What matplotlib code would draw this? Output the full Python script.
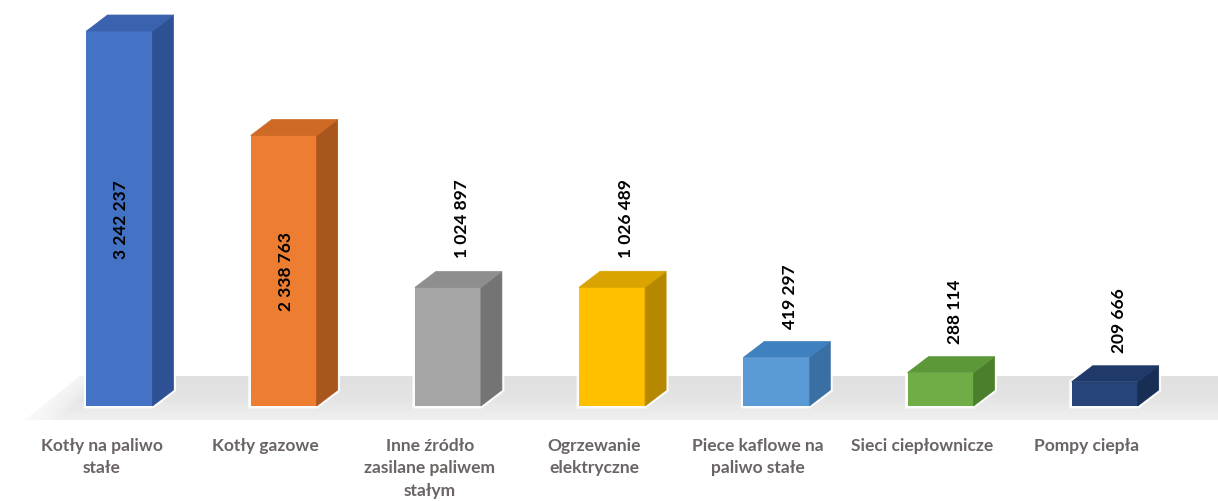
import numpy as np
import matplotlib
matplotlib.use("Agg")
import matplotlib.pyplot as plt
from matplotlib.patches import Polygon

# ---- data ----
categories = [
    "Kotły na paliwo\nstałe",
    "Kotły gazowe",
    "Inne źródło\nzasilane paliwem\nstałym",
    "Ogrzewanie\nelektryczne",
    "Piece kaflowe na\npaliwo stałe",
    "Sieci ciepłownicze",
    "Pompy ciepła",
]
values = [3242237, 2338763, 1024897, 1026489, 419297, 288114, 209666]
value_labels = ["3 242 237", "2 338 763", "1 024 897", "1 026 489",
                "419 297", "288 114", "209 666"]

# face colours: front, side, top
front_colors = ["#4472C4", "#ED7D31", "#A5A5A5", "#FFC000", "#5B9BD5", "#70AD47", "#264478"]
side_colors = ["#2E5095", "#A9551E", "#747474", "#B58800", "#3A6FA3", "#4C7F2C", "#182E55"]
top_colors = ["#3A62AE", "#CF6A26", "#8E8E8E", "#D9A300", "#3F80BF", "#5C9738", "#1F3968"]

# ---- layout (pixels) ----
W, H = 1218, 502
X0_PX, STEP_PX = 119.5, 164.2      # centre of first bar, spacing
BASE_PX = 95                       # baseline height above figure bottom
TOP_PX = 375                       # pixel height of the tallest bar
BAR_W_PX = 66
DEPTH_X_PX, DEPTH_Y_PX = 21, 16

fig = plt.figure(figsize=(W / 100, H / 100), dpi=100)
fig.patch.set_facecolor("white")
ax = fig.add_axes([0, 0, 1, 1])
ax.set_axis_off()

upp = max(values) / TOP_PX         # data units per pixel (vertical)
ax.set_xlim(-X0_PX / STEP_PX, (W - X0_PX) / STEP_PX)
ax.set_ylim(-BASE_PX * upp, (H - BASE_PX) * upp)

px_x = 1.0 / STEP_PX
dx = DEPTH_X_PX * px_x
dy = DEPTH_Y_PX * upp
bw = BAR_W_PX * px_x
x = np.arange(len(values))

# ---- floor ----
floor_front = -14 * upp
floor_back = 30 * upp
fl_left_front = (25 - X0_PX) * px_x
fl_left_back = (80 - X0_PX) * px_x
fl_right = (W + 20 - X0_PX) * px_x
floor_poly = Polygon([(fl_left_front, floor_front), (fl_right, floor_front),
                      (fl_right, floor_back), (fl_left_back, floor_back)],
                     closed=True, facecolor="none", edgecolor="none")
ax.add_patch(floor_poly)
grad = np.linspace(0, 1, 64).reshape(-1, 1)
cmap = matplotlib.colors.LinearSegmentedColormap.from_list(
    "floor", ["#F0F0F0", "#E4E4E4", "#E0E0E0"])
img = ax.imshow(grad, extent=(fl_left_front, fl_right, floor_front, floor_back),
                origin="lower", cmap=cmap, aspect="auto", zorder=1,
                interpolation="bilinear")
img.set_clip_path(floor_poly)
# soft left end of the floor
for k in range(6):
    ax.add_patch(Polygon([(fl_left_front - (k + 1) * 4 * px_x, floor_front),
                          (fl_left_front + (6 - k) * 5 * px_x, floor_front),
                          (fl_left_back + (6 - k) * 5 * px_x, floor_back),
                          (fl_left_back - (k + 1) * 4 * px_x, floor_back)],
                         closed=True, facecolor="white", edgecolor="none",
                         alpha=0.18, zorder=1.5))

# ---- 3D bars ----
for i, (xi, v) in enumerate(zip(x, values)):
    xl, xr = xi - bw / 2, xi + bw / 2
    outline = [(xl, 0), (xr, 0), (xr + dx, dy), (xr + dx, v + dy),
               (xl + dx, v + dy), (xl, v)]
    ax.add_patch(Polygon(outline, closed=True, facecolor="white",
                         edgecolor="white", linewidth=3.5, alpha=0.9, zorder=2))
    ax.bar(xi, v, width=bw, bottom=0, color=front_colors[i],
           linewidth=0, zorder=3)
    side = [(xr, 0), (xr + dx, dy), (xr + dx, v + dy), (xr, v)]
    ax.add_patch(Polygon(side, closed=True, facecolor=side_colors[i],
                         edgecolor=side_colors[i], linewidth=0.5, zorder=3))
    top = [(xl, v), (xl + dx, v + dy), (xr + dx, v + dy), (xr, v)]
    ax.add_patch(Polygon(top, closed=True, facecolor=top_colors[i],
                         edgecolor=top_colors[i], linewidth=0.5, zorder=3))

# ---- value labels ----
label_font = dict(family=["Lato", "DejaVu Sans"], fontweight="bold",
                  fontsize=12.5, color="black")
inside_threshold = 2_000_000
for i, (xi, v) in enumerate(zip(x, values)):
    if v >= inside_threshold:
        ax.text(xi + 2 * px_x, v / 2, value_labels[i], rotation=90, ha="center",
                va="center", zorder=5, **label_font)
    else:
        ax.text(xi + 14 * px_x, v + dy + 14 * upp, value_labels[i],
                rotation=90, ha="center", va="bottom", zorder=5,
                **label_font)

# ---- category labels ----
for i, xi in enumerate(x):
    ax.text(xi - 18 * px_x, (H - 438 - BASE_PX) * upp, categories[i],
            ha="center", va="top", family=["Lato", "DejaVu Sans"],
            fontweight="bold", fontsize=12.5, color="#6B6464",
            linespacing=1.5, zorder=5)

fig.savefig("out.png", dpi=100, facecolor="white")
